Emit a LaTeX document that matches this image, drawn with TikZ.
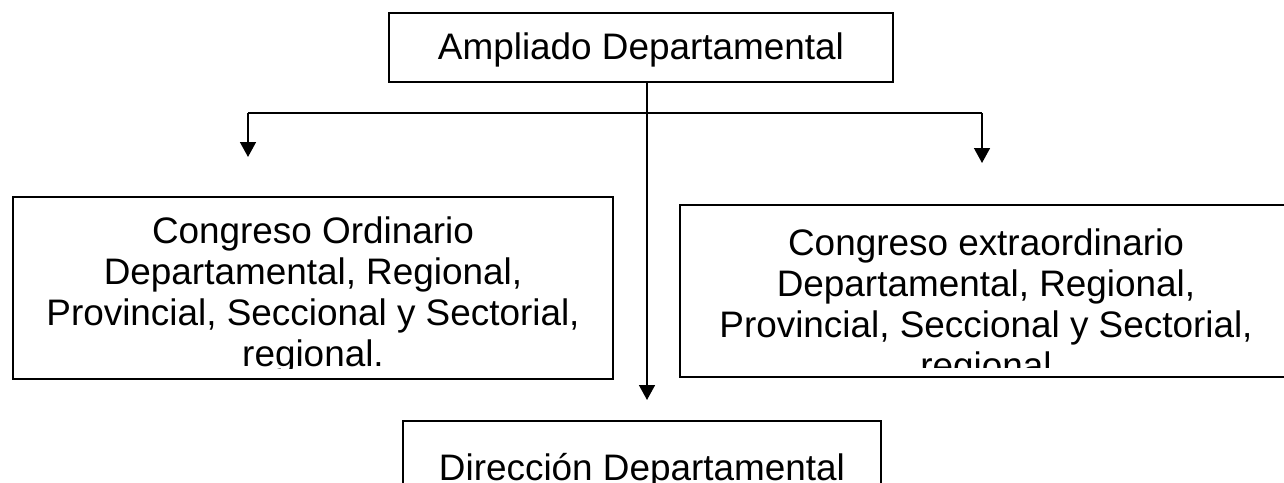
\documentclass[tikz,border=0pt]{standalone}
\usepackage{fontspec}
\setmainfont{Liberation Sans}
\usepackage{tikz}
\usetikzlibrary{arrows.meta}

\tikzset{
  caja/.style={draw, line width=1.2pt, inner sep=0pt},
  texto/.style={inner sep=0pt, align=center, font=\fontsize{21}{23.3}\selectfont},
  linea/.style={line width=1.1pt},
  flecha/.style={line width=1.1pt, -{Triangle[length=8.5pt,width=9pt]}}
}

\begin{document}
\begin{tikzpicture}[x=0.02cm, y=-0.02cm]
  \useasboundingbox (0,0) rectangle (1284,483);

  % Boxes
  \node[caja, texto, minimum width=10.08cm, minimum height=1.38cm, text height=0.5cm, text depth=0pt] (ampliado) at (641,47.5) {Ampliado Departamental};
  \node[caja, minimum width=12cm, minimum height=3.64cm] (ordinario) at (313,288) {};
  \node[caja, minimum width=12.24cm, minimum height=3.44cm] (extra) at (986,291) {};
  \node[caja, texto, minimum width=9.56cm, minimum height=1.58cm, text height=0.78cm, text depth=0pt] (direccion) at (642,460.5) {Dirección Departamental};

  % Box texts, cut off at the inner margin
  \begin{scope}
    \clip (ordinario.north west) rectangle ([yshift=0.24cm]ordinario.south east);
    \node[texto, anchor=north] (ordinariotxt) at (313,216.6) {Congreso Ordinario\\Departamental, Regional,\\Provincial, Seccional y Sectorial,\\regional.};
  \end{scope}
  \begin{scope}
    \clip (extra.north west) rectangle ([yshift=0.22cm]extra.south east);
    \node[texto, anchor=north] (extratxt) at (986,228.6) {Congreso extraordinario\\Departamental, Regional,\\Provincial, Seccional y Sectorial,\\regional};
  \end{scope}

  % Connectors
  \coordinate (ramaizq) at (248,113);
  \coordinate (ramader) at (982,113);
  \coordinate (puntaizq) at (248,157);
  \coordinate (puntader) at (982,163);
  \coordinate (puntacentro) at (647,400);
  \draw[linea] (ramaizq) -- (ramader);
  \draw[flecha] (ramaizq) -- (puntaizq);
  \draw[flecha] (ramader) -- (puntader);
  \draw[flecha] (ampliado.south -| puntacentro) -- (puntacentro);
\end{tikzpicture}
\end{document}
